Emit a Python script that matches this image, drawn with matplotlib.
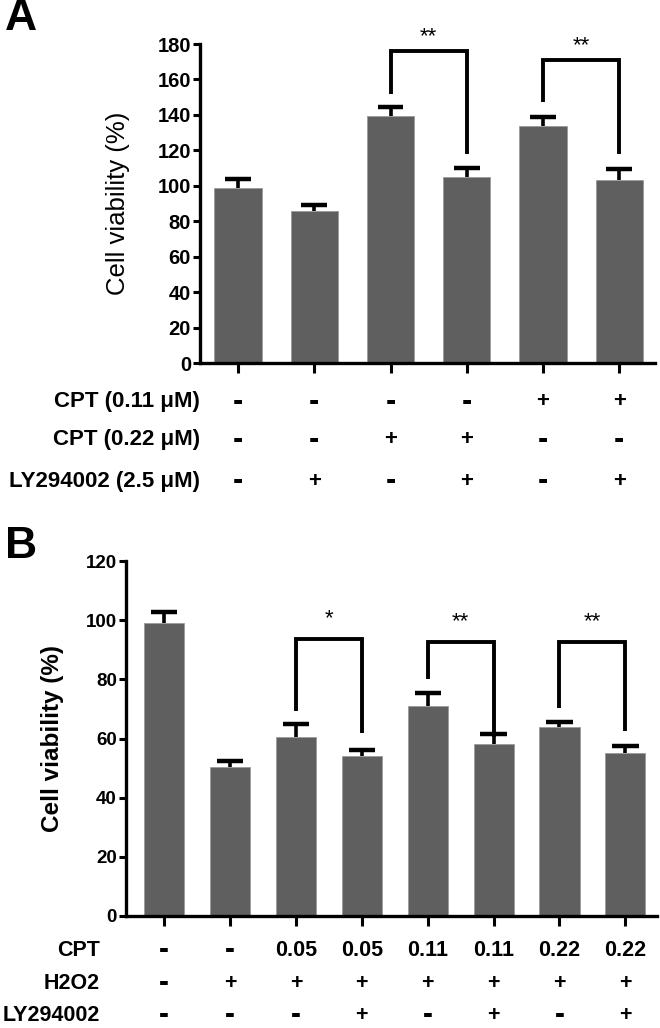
import matplotlib
matplotlib.use("Agg")
import matplotlib.pyplot as plt
import numpy as np

plt.rcParams['font.family'] = ['Liberation Sans', 'DejaVu Sans']

# ---- Panel A data ----
a_values = [99, 86, 139.5, 105, 134, 103.5]
a_errors = [5, 3, 5, 5, 5, 6]
a_rows = ["CPT (0.11 μM)", "CPT (0.22 μM)", "LY294002 (2.5 μM)"]
a_signs = [
    ["-", "-", "-", "-", "+", "+"],
    ["-", "-", "+", "+", "-", "-"],
    ["-", "+", "-", "+", "-", "+"],
]
a_yticks = [0, 20, 40, 60, 80, 100, 120, 140, 160, 180]
# brackets: (left bar, right bar, top, left leg bottom, right leg bottom, star y, label)
a_brackets = [(2, 3, 176, 152, 118, 184, "**"), (4, 5, 171, 147, 118, 179, "**")]

# ---- Panel B data ----
b_values = [99, 50.5, 60.5, 54, 71, 58, 64, 55]
b_errors = [3.7, 2, 4.3, 2.2, 4.3, 3.4, 1.6, 2.6]
b_rows = ["CPT", "H2O2", "LY294002"]
b_signs = [
    ["-", "-", "0.05", "0.05", "0.11", "0.11", "0.22", "0.22"],
    ["-", "+", "+", "+", "+", "+", "+", "+"],
    ["-", "-", "-", "+", "-", "+", "-", "+"],
]
b_yticks = [0, 20, 40, 60, 80, 100, 120]
b_brackets = [(2, 3, 93.8, 69.4, 61.9, 100.5, "*"),
              (4, 5, 92.6, 80.1, 60.6, 99.5, "**"),
              (6, 7, 92.6, 70.3, 62.4, 99.5, "**")]

BAR = '#5f5f5f'
W, H = 660, 1028
fig = plt.figure(figsize=(W / 100, H / 100), dpi=100)


def make_axes(l, r, t, b):
    return fig.add_axes([l / W, 1 - b / H, (r - l) / W, (b - t) / H])


def draw_panel(ax, values, errors, yticks, brackets, xlim, width, capw,
               tick_fs, ylab_fs, ylab_w, ylab_x, star_fs):
    x = np.arange(len(values))
    vals = np.array(values)
    errs = np.array(errors)
    ax.bar(x, vals, width=width, color=BAR, edgecolor='#9a9a9a', linewidth=0.6, zorder=2)
    ax.vlines(x, vals, vals + errs, color='black', lw=2.6, zorder=3)
    ax.hlines(vals + errs, x - capw, x + capw, color='black', lw=3.2, zorder=3)
    ax.set_xlim(*xlim)
    ax.set_ylim(0, yticks[-1])
    ax.set_yticks(yticks)
    ax.set_xticks(x)
    ax.set_xticklabels([])
    for s in ['top', 'right']:
        ax.spines[s].set_visible(False)
    for s in ['left', 'bottom']:
        ax.spines[s].set_linewidth(2.4)
    ax.tick_params(axis='y', direction='out', length=5, width=2.2, labelsize=tick_fs, pad=1.5)
    ax.tick_params(axis='x', direction='out', length=7, width=2.2)
    for lab in ax.get_yticklabels():
        lab.set_fontweight('bold')
    ax.set_ylabel("Cell viability (%)", fontsize=ylab_fs, fontweight=ylab_w)
    ax.yaxis.set_label_coords(ylab_x, 0.5)
    for (i, j, top, lb, rb, sy, lbl) in brackets:
        ax.plot([i, i, j, j], [lb, top, top, rb], color='black', lw=2.8,
                solid_capstyle='butt', solid_joinstyle='miter', clip_on=False, zorder=4)
        ax.text((i + j) / 2, sy, lbl, ha='center', va='center', fontsize=star_fs,
                fontweight='normal', clip_on=False)


def draw_rows(ax, rows, signs, ys, label_x, fs):
    tr = ax.get_xaxis_transform()
    for r, (name, row) in enumerate(zip(rows, signs)):
        ax.text(label_x, ys[r], name, transform=ax.transAxes, ha='right', va='center',
                fontsize=fs, fontweight='bold')
        for k, s in enumerate(row):
            size = fs + 6 if s == "-" else fs
            ax.text(k, ys[r], s, transform=tr, ha='center', va='center',
                    fontsize=size, fontweight='bold')


# Panel A
axA = make_axes(200, 655, 44, 363)
draw_panel(axA, a_values, a_errors, a_yticks, a_brackets, (-0.5, 5.47), 0.62, 0.17,
           14.5, 18.5, 'normal', -0.154, 16)
draw_rows(axA, a_rows, a_signs, [-0.122, -0.241, -0.370], 0.0, 16)

# Panel B
axB = make_axes(126, 657, 561, 916)
draw_panel(axB, b_values, b_errors, b_yticks, b_brackets, (-0.58, 7.48), 0.61, 0.2,
           13.5, 17.5, 'bold', -0.116, 16)
draw_rows(axB, b_rows, b_signs, [-0.096, -0.189, -0.279], -0.049, 15.5)

fig.text(5 / W, 1 - 19 / H, "A", fontsize=32, fontweight='bold', va='center', ha='left')
fig.text(5 / W, 1 - 546 / H, "B", fontsize=32, fontweight='bold', va='center', ha='left')

fig.savefig("out.png", dpi=100, facecolor='white')
